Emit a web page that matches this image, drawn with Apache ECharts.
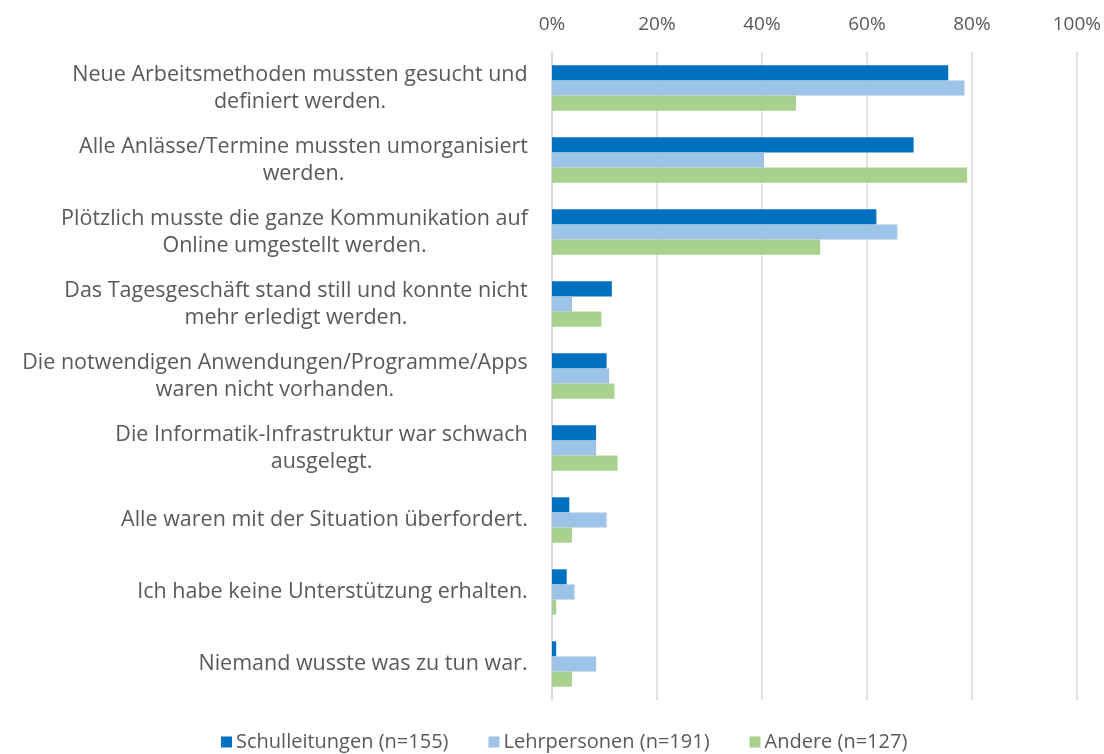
<!DOCTYPE html>
<html>
<head>
<meta charset="utf-8">
<script src="https://cdn.jsdelivr.net/npm/echarts@6/dist/echarts.min.js"></script>
<style>
html,body{margin:0;padding:0;background:#fff;}
#chart{width:1104px;height:754px;}
</style>
</head>
<body>
<div id="chart"></div>
<script>
const categories = [
  "Neue Arbeitsmethoden mussten gesucht und\ndefiniert werden.",
  "Alle Anlässe/Termine mussten umorganisiert\nwerden.",
  "Plötzlich musste die ganze Kommunikation auf\nOnline umgestellt werden.",
  "Das Tagesgeschäft stand still und konnte nicht\nmehr erledigt werden.",
  "Die notwendigen Anwendungen/Programme/Apps\nwaren nicht vorhanden.",
  "Die Informatik-Infrastruktur war schwach\nausgelegt.",
  "Alle waren mit der Situation überfordert.",
  "Ich habe keine Unterstützung erhalten.",
  "Niemand wusste was zu tun war."
];
const seriesNames = ["Schulleitungen (n=155)", "Lehrpersonen (n=191)", "Andere (n=127)"];
const schulleitungen = [75.5, 68.9, 61.8, 11.4, 10.4, 8.4, 3.3, 2.8, 0.8];
const lehrpersonen   = [78.6, 40.4, 65.8, 3.8, 10.9, 8.4, 10.4, 4.3, 8.4];
const andere         = [46.5, 79.1, 51.1, 9.4, 11.9, 12.5, 3.8, 0.8, 3.8];
const xTicks = [0, 20, 40, 60, 80, 100];

const FONT = "Open Sans";
const FS = 21.5;
const colors = ["#0070C0", "#9DC3E6", "#A9D18E"];

// measure label block widths so that lines are centered within each block
const cv = document.createElement('canvas').getContext('2d');
cv.font = FS + 'px "' + FONT + '"';
const rich = {};
categories.forEach((c, i) => {
  const w = Math.max(...c.split('\n').map(l => cv.measureText(l).width));
  rich['c' + i] = {width: Math.ceil(w), align: 'center', fontFamily: FONT, fontSize: FS, color: '#595959', lineHeight: 27};
});

const chart = echarts.init(document.getElementById('chart'), null, {renderer: 'canvas'});
chart.setOption({
  animation: false,
  textStyle: {fontFamily: FONT},
  grid: {left: 552, right: 27, top: 52, height: 648},
  xAxis: {
    type: 'value', position: 'top', min: xTicks[0], max: xTicks[xTicks.length - 1], interval: 20,
    axisLine: {show: false}, axisTick: {show: false},
    axisLabel: {formatter: '{value}%', color: '#595959', fontSize: 19, fontFamily: FONT, margin: 18},
    splitLine: {lineStyle: {color: '#d9d9d9', width: 1.5}}
  },
  yAxis: {
    type: 'category', inverse: true, data: categories,
    axisLine: {lineStyle: {color: '#d9d9d9', width: 1.5}},
    axisTick: {show: false},
    axisLabel: {
      margin: 24, align: 'right', lineHeight: 27,
      formatter: (v, i) => v.split('\n').map(l => '{c' + i + '|' + l + '}').join('\n'),
      rich: rich
    }
  },
  legend: {
    top: 727, left: 216, itemWidth: 11, itemHeight: 11, itemGap: 40, icon: 'rect',
    textStyle: {color: '#595959', fontSize: 20, fontFamily: FONT, padding: [0, 0, 0, -1]},
    data: seriesNames
  },
  series: [
    {name: seriesNames[0], type: 'bar', data: schulleitungen, itemStyle: {color: colors[0]}, barGap: '0%', barCategoryGap: '37%'},
    {name: seriesNames[1], type: 'bar', data: lehrpersonen, itemStyle: {color: colors[1]}, barGap: '0%', barCategoryGap: '37%'},
    {name: seriesNames[2], type: 'bar', data: andere, itemStyle: {color: colors[2]}, barGap: '0%', barCategoryGap: '37%'}
  ]
});
</script>
</body>
</html>
